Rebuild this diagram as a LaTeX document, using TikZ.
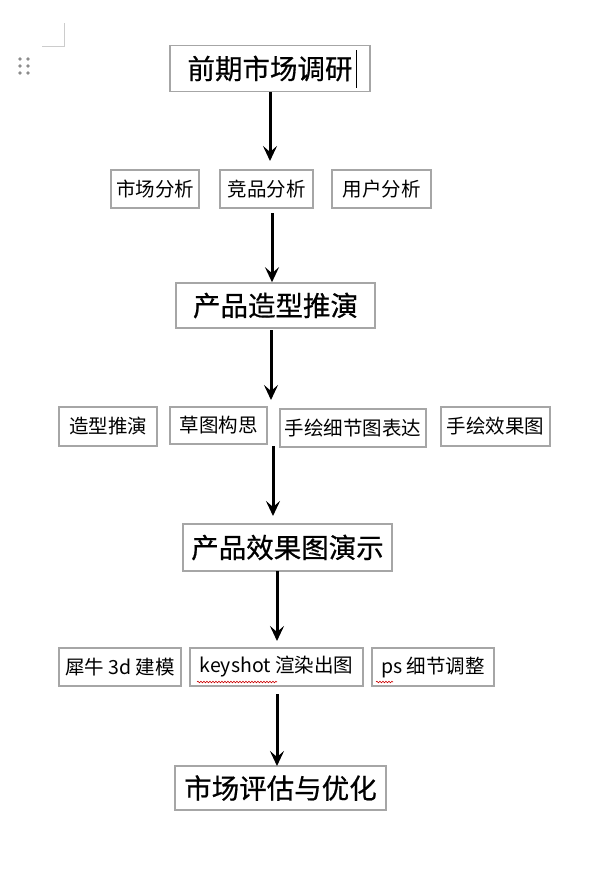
\documentclass[tikz,border=0pt]{standalone}
\usepackage{fontspec}
\setmainfont{Noto Sans CJK SC}
\newfontfamily\stagefont[FakeBold=0.6]{Noto Sans CJK SC}
\usetikzlibrary{arrows.meta,decorations.pathmorphing}
\tikzset{
    stagebox/.style={draw=black!35, line width=1.6pt, minimum height=46pt, inner sep=0pt, font=\stagefont\fontsize{27.5}{30}\selectfont},
    itembox/.style={draw=black!35, line width=1.6pt, minimum height=38pt, inner sep=0pt, font=\fontsize{19.5}{22}\selectfont},
    flow/.style={line width=3pt, -{Stealth[length=15pt,width=14pt,inset=6pt]}},
    typo/.style={red!80!black, line width=0.6pt, decorate, decoration={snake, amplitude=0.8pt, segment length=3pt}}
}
\begin{document}
\begin{tikzpicture}[x=1pt, y=-1pt]
    \useasboundingbox (0,0) rectangle (597,884);

    % page marks
    \draw[black!20, line width=0.8pt] (64,23) -- (64,46) -- (42,46);
    \foreach \dx in {20,28}
        \foreach \dy in {59,66,73}
            \fill[black!45] (\dx,\dy) circle (1.8pt);

    % stages
    \node[stagebox, minimum width=200pt] (survey) at (270,68.5) {前期市场调研};
    \node[stagebox, minimum width=199pt, minimum height=45pt] (styling) at (275.5,305.5) {产品造型推演};
    \node[stagebox, minimum width=209pt, minimum height=47pt] (render) at (287.5,547.5) {产品效果图演示};
    \node[stagebox, minimum width=211pt, minimum height=44pt] (review) at (280.5,788) {市场评估与优化};
    \draw[line width=0.9pt] (356,50) -- (356,88);

    % research items
    \node[itembox, minimum width=88pt] (market) at (155,189) {市场分析};
    \node[itembox, minimum width=93pt] (rival) at (266.5,189) {竞品分析};
    \node[itembox, minimum width=99pt] (user) at (381.5,189) {用户分析};

    % sketch items
    \node[itembox, minimum width=98pt, minimum height=39pt] (shape) at (108,426.5) {造型推演};
    \node[itembox, minimum width=97pt, minimum height=37pt] (draft) at (218.5,425.5) {草图构思};
    \node[itembox, minimum width=146pt] (detail) at (353,428) {手绘细节图表达};
    \node[itembox, minimum width=109pt, minimum height=39pt] (effect) at (495.5,426.5) {手绘效果图};

    % rendering items
    \node[itembox, minimum width=122pt] (rhino) at (120,667) {犀牛 3d 建模};
    \node[itembox, minimum width=173pt] (keyshot) at (276.5,667) {keyshot 渲染出图};
    \node[itembox, minimum width=122pt] (ps) at (433,667) {ps 细节调整};
    \draw[typo] (197,682) -- (277,682);
    \draw[typo] (376,682) -- (393,682);

    % flow
    \coordinate (a1) at (270,92);
    \coordinate (b1) at (270,161);
    \coordinate (a2) at (272,213);
    \coordinate (a3) at (271,330);
    \coordinate (b3) at (271,400);
    \coordinate (a4) at (273,446);
    \coordinate (b4) at (273,516);
    \coordinate (a5) at (277,571);
    \coordinate (b5) at (277,641);
    \coordinate (a6) at (277,694);
    \coordinate (b6) at (277,766);
    \draw[flow] (a1) -- (b1);
    \draw[flow] (a2) -- (a2 |- styling.north);
    \draw[flow] (a3) -- (b3);
    \draw[flow] (a4) -- (b4);
    \draw[flow] (a5) -- (b5);
    \draw[flow] (a6) -- (b6);
\end{tikzpicture}
\end{document}
